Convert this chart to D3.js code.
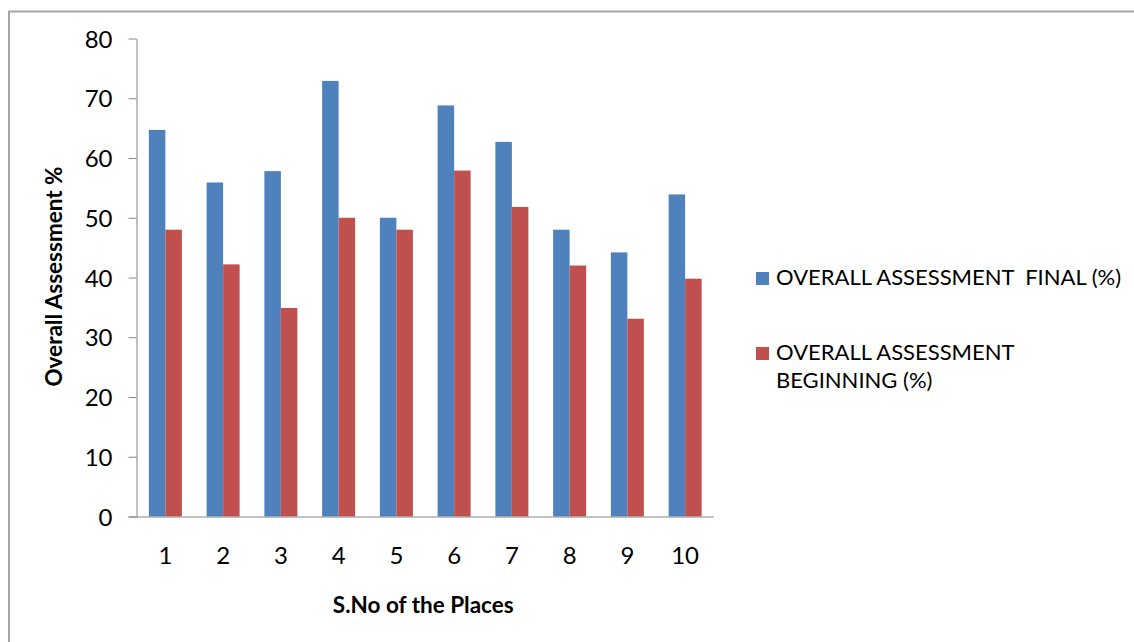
<!DOCTYPE html>
<html>

<head>
  <script type="text/javascript" src="https://d3js.org/d3.v7.min.js"></script>
  <style>
    body { margin: 0; background: #fff; }
    text { font-family: Lato, "Open Sans", sans-serif; fill: #000; }
    .axis path, .axis line { stroke: #868686; }
  </style>
</head>

<body>
  <script>
    // data
    var places = ["1", "2", "3", "4", "5", "6", "7", "8", "9", "10"];
    var finalPct = [64.7, 55.9, 57.8, 72.9, 50, 68.8, 62.7, 48, 44.2, 53.9];
    var beginPct = [48, 42.2, 34.9, 50, 48, 57.9, 51.8, 42, 33.1, 39.8];
    var seriesNames = ["OVERALL ASSESSMENT  FINAL (%)", "OVERALL ASSESSMENT BEGINNING (%)"];
    var seriesColors = ["#4F81BD", "#C0504D"];
    var yTicks = [0, 10, 20, 30, 40, 50, 60, 70, 80];

    var W = 1134, H = 642;
    var svg = d3.select("body").append("svg")
      .attr("width", W)
      .attr("height", H);

    // chart frame (cut off at right and bottom)
    svg.append("path")
      .attr("d", "M9,660 V11.5 H1150")
      .attr("fill", "none")
      .attr("stroke", "#a6a6a6")
      .attr("stroke-width", 2);

    // plot area
    var pLeft = 136.5, pRight = 714, pTop = 38.5, pBottom = 516.5;

    var x = d3.scaleBand().domain(places).range([pLeft, pRight])
      .paddingInner(0.4286).paddingOuter(0.2143);
    var xs = d3.scaleBand().domain([0, 1]).range([0, x.bandwidth()]);
    var y = d3.scaleLinear().domain([0, 80]).range([pBottom, pTop]);

    var rows = places.map(function (p, i) {
      return { place: p, vals: [finalPct[i], beginPct[i]] };
    });

    // bars
    var g = svg.append("g").selectAll("g")
      .data(rows).enter().append("g")
      .attr("transform", function (d) { return "translate(" + x(d.place) + ",0)"; });
    g.selectAll("rect")
      .data(function (d) { return d.vals; })
      .enter().append("rect")
      .attr("x", function (d, i) { return xs(i); })
      .attr("y", function (d) { return y(d); })
      .attr("width", xs.bandwidth())
      .attr("height", function (d) { return pBottom - y(d); })
      .attr("fill", function (d, i) { return seriesColors[i]; });

    // y axis
    var yAxis = svg.append("g")
      .attr("class", "axis")
      .attr("transform", "translate(" + pLeft + ",0)")
      .call(d3.axisLeft(y).tickValues(yTicks).tickSize(8).tickSizeOuter(0).tickPadding(16));
    yAxis.selectAll("text").style("font-size", "24px").attr("dy", "0.36em");

    // x axis
    var xAxis = svg.append("g")
      .attr("class", "axis")
      .attr("transform", "translate(0," + pBottom + ")")
      .call(d3.axisBottom(x).tickSize(0).tickSizeOuter(0).tickPadding(30));
    xAxis.select("path").attr("d", "M" + (pLeft - 8) + ",0.5H" + pRight);
    xAxis.selectAll("text").style("font-size", "24px");

    // axis titles
    svg.append("text")
      .attr("x", (pLeft + pRight) / 2 - 2)
      .attr("y", 613)
      .attr("text-anchor", "middle")
      .style("font-size", "22.5px")
      .style("font-weight", "bold")
      .text("S.No of the Places");

    svg.append("text")
      .attr("transform", "translate(62," + ((pTop + pBottom) / 2 - 1) + ") rotate(-90)")
      .attr("text-anchor", "middle")
      .style("font-size", "22.5px")
      .style("font-weight", "bold")
      .text("Overall Assessment %");

    // legend
    var legendLines = [["OVERALL ASSESSMENT  FINAL (%)"], ["OVERALL ASSESSMENT", "BEGINNING (%)"]];
    var legendY = [285, 360];
    legendLines.forEach(function (lines, i) {
      svg.append("rect")
        .attr("x", 756).attr("y", legendY[i] - 13)
        .attr("width", 13).attr("height", 13)
        .attr("fill", seriesColors[i]);
      var t = svg.append("text")
        .attr("x", 776).attr("y", legendY[i])
        .style("font-size", "22px")
        .attr("xml:space", "preserve");
      lines.forEach(function (l, j) {
        t.append("tspan").attr("x", 776).attr("dy", j ? 28 : 0).text(l);
      });
    });
  </script>
</body>

</html>
